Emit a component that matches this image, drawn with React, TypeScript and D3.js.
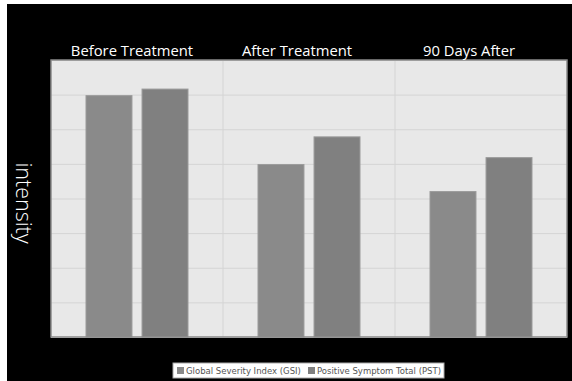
import React from "react";
import * as d3 from "d3";

const categories = ["Before Treatment", "After Treatment", "90 Days After"];
const seriesNames = ["Global Severity Index (GSI)", "Positive Symptom Total (PST)"];
const gsiValues = [6.97, 4.98, 4.2];
const pstValues = [7.16, 5.78, 5.18];
const seriesColors = ["#8a8a8a", "#808080"];
const yTicks = [0, 1, 2, 3, 4, 5, 6, 7, 8];

export default function App() {
  const W = 572, H = 381;
  const left = 51, right = 567, top = 60, bottom = 337;
  const x = d3.scaleBand<string>().domain(categories).range([left, right]);
  const y = d3.scaleLinear().domain([0, 8]).range([bottom, top]);
  const inner = d3.scaleBand<string>().domain(seriesNames).range([35, 137]).paddingInner(0.18);
  const series = [gsiValues, pstValues];
  const labelDx = [-5, -12, -12];
  return (
    <svg width={W} height={H} style={{ position: "absolute", left: 0, top: 0 }}>
      <rect x={0} y={0} width={W} height={H} fill="#fff" />
      <rect x={7} y={4} width={W - 7} height={H - 4} fill="#000" />
      <rect x={left} y={top} width={right - left} height={bottom - top} fill="#e8e8e8" />
      {yTicks.map((t) => (
        <line key={t} x1={left} x2={right} y1={y(t) + 0.5} y2={y(t) + 0.5} stroke="#d4d4d4" strokeWidth={1} />
      ))}
      {categories.slice(1).map((c) => (
        <line key={c} x1={x(c)!} x2={x(c)!} y1={top} y2={bottom} stroke="#d4d4d4" strokeWidth={1} />
      ))}
      {series.map((vals, si) =>
        vals.map((v, ci) => (
          <rect
            key={si + "-" + ci}
            x={x(categories[ci])! + inner(seriesNames[si])!}
            y={y(v)}
            width={inner.bandwidth()}
            height={y(0) - y(v)}
            fill={seriesColors[si]}
            stroke="#9a9a9a"
            strokeWidth={1}
          />
        ))
      )}
      <rect x={left} y={top} width={right - left} height={bottom - top} fill="none" stroke="#8a8a8a" strokeWidth={1.5} />
      {categories.map((c, i) => (
        <text
          key={c}
          x={x(c)! + x.bandwidth() / 2 + labelDx[i]}
          y={55.5}
          textAnchor="middle"
          fill="#fff"
          fontFamily="'Open Sans', sans-serif"
          fontSize={14.8}
        >
          {c}
        </text>
      ))}
      <text
        transform={`translate(16,203) rotate(90)`}
        textAnchor="middle"
        fill="#fff"
        fontFamily="'Open Sans', sans-serif"
        fontWeight={300}
        fontSize={21.5}
      >
        intensity
      </text>
      <g>
        <rect x={173} y={363} width={271} height={15} fill="#fff" stroke="#aaa" strokeWidth={1} />
        <rect x={177} y={367} width={7} height={7} fill={seriesColors[0]} />
        <text x={186} y={374} fill="#555" fontFamily="'DejaVu Sans', Verdana, sans-serif" fontSize={8.5}>
          {seriesNames[0]}
        </text>
        <rect x={308} y={367} width={7} height={7} fill={seriesColors[1]} />
        <text x={317} y={374} fill="#555" fontFamily="'DejaVu Sans', Verdana, sans-serif" fontSize={8.5}>
          {seriesNames[1]}
        </text>
      </g>
    </svg>
  );
}
